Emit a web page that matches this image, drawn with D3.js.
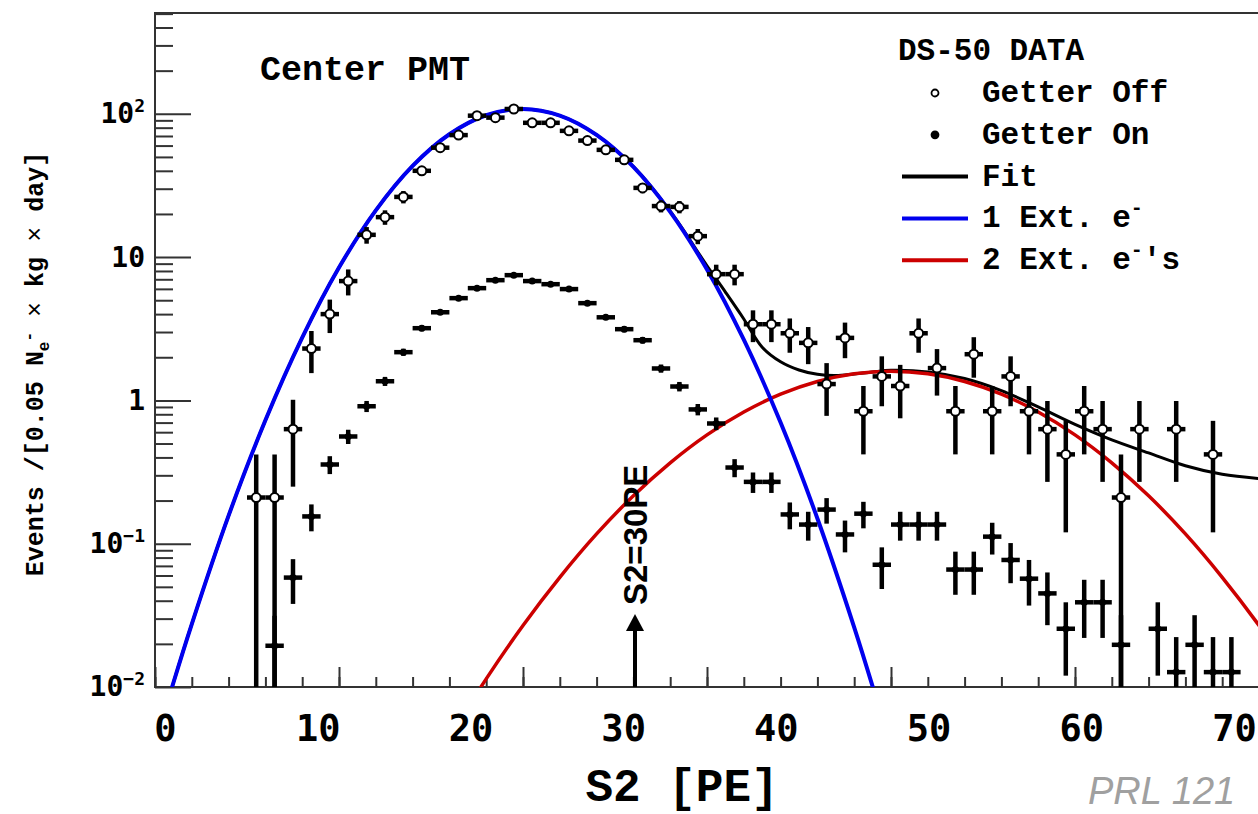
<!DOCTYPE html>
<html>
<head>
<meta charset="utf-8">
<script src="https://cdn.jsdelivr.net/npm/d3@7"></script>
<style>
body { margin:0; background:#fff; }
</style>
</head>
<body>
<svg id="chart"></svg>
<script>
// values, x in extracted electrons (0.05 N_e bins)
var getterOffNe = [0.275,0.325,0.375,0.425,0.475,0.525,0.575,0.625,0.675,0.725,0.775,0.825,0.875,0.925,0.975,
    1.025,1.075,1.125,1.175,1.225,1.275,1.325,1.375,1.425,1.475,1.525,1.575,1.625,1.675,1.725,1.775,1.825,1.875,
    1.925,1.975,2.025,2.075,2.125,2.175,2.225,2.275,2.325,2.375,2.425,2.475,2.525,2.575,2.625,2.675,2.775,2.875]
var getterOffVal = [0.21,0.21,0.63,2.3,4.0,6.8,14.3,19.0,26.3,40,58,71,97,94,108,
    86.5,86.5,76,65,56,47.7,30.4,22.7,22.4,14.0,7.6,7.6,3.4,3.4,2.94,2.52,1.3,2.73,
    0.84,1.47,1.26,2.94,1.68,0.84,2.1,0.84,1.47,0.84,0.63,0.42,0.84,0.63,0.21,0.63,0.63,0.42]
var getterOffErr = [0.21,0.21,0.38,0.75,1.05,1.4,1.9,2.2,2.6,3.1,3.6,4.0,4.6,4.5,4.8,
    4.3,4.3,4.0,3.7,3.4,3.2,2.5,2.2,2.2,1.7,1.25,1.25,0.85,0.85,0.79,0.73,0.52,0.76,
    0.42,0.56,0.51,0.79,0.6,0.42,0.66,0.42,0.56,0.42,0.36,0.3,0.42,0.36,0.21,0.36,0.36,0.3]

var getterOnNe = [0.325,0.375,0.425,0.475,0.525,0.575,0.625,0.675,0.725,0.775,0.825,0.875,0.925,0.975,
    1.025,1.075,1.125,1.175,1.225,1.275,1.325,1.375,1.425,1.475,1.525,1.575,1.625,1.675,1.725,1.775,1.825,1.875,
    1.925,1.975,2.025,2.075,2.125,2.175,2.225,2.275,2.325,2.375,2.425,2.475,2.525,2.575,2.625,
    2.725,2.775,2.825,2.875,2.925]
var getterOnVal = [0.0194,0.058,0.155,0.357,0.56,0.91,1.36,2.17,3.19,4.12,5.17,6.07,6.9,7.48,
    6.8,6.47,5.98,4.77,3.8,3.14,2.63,1.67,1.25,0.865,0.69,0.34,0.27,0.27,0.16,0.136,0.173,0.116,
    0.162,0.0713,0.136,0.136,0.136,0.066,0.066,0.112,0.077,0.057,0.045,0.0255,0.039,0.039,0.0197,
    0.0255,0.0127,0.0197,0.0127,0.0127]
var getterOnErr = [0.012,0.020,0.033,0.051,0.064,0.081,0.099,0.125,0.152,0.172,0.193,0.209,0.223,0.232,
    0.221,0.216,0.207,0.185,0.165,0.150,0.138,0.110,0.095,0.079,0.070,0.049,0.044,0.044,0.034,0.031,0.035,0.029,
    0.034,0.023,0.031,0.031,0.031,0.022,0.022,0.028,0.024,0.020,0.018,0.0135,0.017,0.017,0.012,
    0.0135,0.0096,0.012,0.0096,0.0096]

// fit curves, read point by point
var oneElecNe  = [0,0.05,0.1,0.2,0.3,0.4,0.5,0.6,0.7,0.8,0.9,1.0,1.1,1.2,1.3,1.4,1.5,1.6,1.7,1.8,1.9,1.95,2.0]
var oneElecVal = [0.0039,0.0107,0.0275,0.157,0.726,2.74,8.45,21.2,43.3,72.0,97.7,108,97.1,71.2,42.6,20.7,8.2,2.65,0.70,0.150,0.0261,0.0101,0.0037]

var twoElecNe  = [0.8,0.9,1.0,1.1,1.2,1.3,1.4,1.5,1.6,1.7,1.8,1.9,2.0,2.1,2.2,2.3,2.4,2.5,2.6,2.7,2.8,2.9,3.0,3.1]
var twoElecVal = [0.00445,0.0114,0.0269,0.0583,0.117,0.216,0.367,0.575,0.830,1.105,1.355,1.532,1.596,1.532,1.355,1.105,0.830,0.575,0.367,0.216,0.117,0.0583,0.0269,0.0114]

var fitNe  = [0,0.05,0.1,0.2,0.3,0.4,0.5,0.6,0.7,0.8,0.9,1.0,1.1,1.2,1.3,1.4,1.5,1.55,1.6,1.65,1.7,1.75,1.8,1.85,1.9,1.95,2.0,2.1,2.2,2.3,2.4,2.5,2.6,2.7,2.8,2.9,3.0,3.05]
var fitVal = [0.0039,0.0107,0.0275,0.157,0.726,2.74,8.45,21.2,43.3,72.0,97.7,108,97.1,71.2,42.8,20.9,8.7,5.7,3.7,2.35,1.86,1.63,1.52,1.49,1.53,1.58,1.62,1.58,1.42,1.17,0.9,0.68,0.53,0.43,0.35,0.305,0.285,0.28]

var s2Labels = [0,10,20,30,40,50,60,70]   // PE
var yDecades = [0.01,0.1,1,10,100]
var peGain = 23.0        // PE per extracted electron
var markerPE = 30

var screen = {width:1258, height:814}
var plot = {left:155, right:1259, top:13, bottom:687}
var mono = "'Liberation Mono','Courier New',monospace"
var numFont = "'DejaVu Sans Mono',monospace"

var svg = d3.select("#chart")
    .attr("width",screen.width)
    .attr("height",screen.height)
    .style("background","#fff")

var xScale = d3.scaleLinear().domain([0,3]).range([plot.left,plot.right])
var yScale = d3.scaleLog().domain([0.01,505]).range([plot.bottom,plot.top])
var labelScale = d3.scaleLinear().domain([0,70]).range([165,1234])

svg.append("defs").append("clipPath").attr("id","clip")
    .append("rect")
    .attr("x",plot.left).attr("y",plot.top)
    .attr("width",plot.right-plot.left+10).attr("height",plot.bottom-plot.top)

// ---- ticks ----
var yMinor = []
yDecades.forEach(function(d){ for(var m=2;m<10;m++){ if(d*m<505) yMinor.push(d*m) } })

var axG = svg.append("g").attr("class","axes")

axG.append("g").attr("transform","translate("+plot.left+",0)")
    .call(d3.axisRight(yScale).tickValues(yDecades).tickSize(36).tickFormat(""))
axG.append("g").attr("transform","translate("+plot.left+",0)")
    .call(d3.axisRight(yScale).tickValues(yMinor).tickSize(18).tickFormat(""))

axG.append("g").attr("transform","translate(0,"+plot.bottom+")")
    .call(d3.axisBottom(xScale).tickValues(d3.range(0,3.01,0.5)).tickSize(-20).tickFormat(""))
axG.append("g").attr("transform","translate(0,"+plot.bottom+")")
    .call(d3.axisBottom(xScale).tickValues(d3.range(0,3.01,0.1)).tickSize(-10).tickFormat(""))

axG.selectAll(".domain").remove()
axG.selectAll(".tick line").attr("stroke","#333").attr("stroke-width",2)

// y labels 10^n
var yLab = svg.append("g").attr("transform","translate("+plot.left+",0)")
    .call(d3.axisLeft(yScale).tickValues(yDecades).tickSize(0).tickPadding(10).tickFormat(""))
yLab.select(".domain").remove()
yLab.selectAll(".tick text").each(function(d){
    var t = d3.select(this)
        .attr("font-family",numFont).attr("font-weight","bold")
        .attr("font-size",28).attr("fill","#000")
    var e = Math.round(Math.log10(d))
    if (e==0) { t.text("1"); return }
    if (e==1) { t.text("10"); return }
    t.append("tspan").text("10")
    t.append("tspan").attr("dy",-11).attr("font-size",18).text(e<0 ? "\u2212"+(-e) : e)
})

// x labels in PE
var xLab = svg.append("g").attr("transform","translate(0,"+plot.bottom+")")
    .call(d3.axisBottom(labelScale).tickValues(s2Labels).tickSize(0).tickPadding(28))
xLab.select(".domain").remove()
xLab.selectAll(".tick text")
    .attr("font-family",numFont).attr("font-weight","bold")
    .attr("font-size",37).attr("fill","#000")

// frame
svg.append("path")
    .attr("d","M"+(plot.right+10)+","+plot.top+"H"+plot.left+"V"+plot.bottom+"H"+(plot.right+10))
    .attr("fill","none").attr("stroke","#333").attr("stroke-width",2)

// ---- curves ----
var lineGen = d3.line()
    .x(function(d){ return xScale(d[0]) })
    .y(function(d){ return yScale(d[1]) })
    .curve(d3.curveCatmullRom.alpha(0.5))

var curves = svg.append("g").attr("clip-path","url(#clip)")
curves.append("path").datum(d3.zip(fitNe,fitVal))
    .attr("d",lineGen).attr("fill","none").attr("stroke","#000").attr("stroke-width",3)
curves.append("path").datum(d3.zip(twoElecNe,twoElecVal))
    .attr("d",lineGen).attr("fill","none").attr("stroke","#cc0000").attr("stroke-width",3.5)
curves.append("path").datum(d3.zip(oneElecNe,oneElecVal))
    .attr("d",lineGen).attr("fill","none").attr("stroke","#0000ee").attr("stroke-width",4)

// ---- data points with error bars ----
var binHalf = 0.025
var drawPoints = function(data, open)
{
    var g = svg.append("g").attr("clip-path","url(#clip)")
    var pts = g.selectAll("g").data(data).enter().append("g")
    pts.append("line")
        .attr("x1",function(d){ return xScale(d[0]) })
        .attr("x2",function(d){ return xScale(d[0]) })
        .attr("y1",function(d){ return yScale(Math.max(d[1]-d[2],0.001)) })
        .attr("y2",function(d){ return yScale(d[1]+d[2]) })
        .attr("stroke","#000").attr("stroke-width",4.5)
    pts.append("line")
        .attr("x1",function(d){ return xScale(d[0]-binHalf) })
        .attr("x2",function(d){ return xScale(d[0]+binHalf) })
        .attr("y1",function(d){ return yScale(d[1]) })
        .attr("y2",function(d){ return yScale(d[1]) })
        .attr("stroke","#000").attr("stroke-width",4.5)
    pts.append("circle")
        .attr("cx",function(d){ return xScale(d[0]) })
        .attr("cy",function(d){ return yScale(d[1]) })
        .attr("r",open ? 4.5 : 3.5)
        .attr("fill",open ? "#fff" : "#000")
        .attr("stroke","#000").attr("stroke-width",open ? 2 : 0)
}
drawPoints(d3.zip(getterOnNe,getterOnVal,getterOnErr), false)
drawPoints(d3.zip(getterOffNe,getterOffVal,getterOffErr), true)

// ---- S2 = 30 PE marker ----
var ax = xScale(markerPE/peGain)
svg.append("line").attr("x1",ax).attr("x2",ax)
    .attr("y1",plot.bottom).attr("y2",plot.bottom-58)
    .attr("stroke","#000").attr("stroke-width",4)
svg.append("path")
    .attr("d","M"+(ax-9)+","+(plot.bottom-56)+"L"+ax+","+(plot.bottom-73)+"L"+(ax+9)+","+(plot.bottom-56)+"Z")
    .attr("fill","#000")
svg.append("text")
    .attr("transform","translate("+(ax+12)+","+(plot.bottom-82)+") rotate(-90)")
    .attr("font-family","'Liberation Sans',Arial,sans-serif").attr("font-weight","bold")
    .attr("font-size",33).text("S2="+markerPE+"PE")

// ---- texts ----
svg.append("text").attr("x",260).attr("y",80)
    .attr("font-family",mono).attr("font-weight","bold").attr("font-size",35)
    .text("Center PMT")

var yt = svg.append("text")
    .attr("transform","translate(43,364) rotate(-90)")
    .attr("text-anchor","middle")
    .attr("font-family",mono).attr("font-weight","bold").attr("font-size",25)
yt.append("tspan").text("Events /[0.05 N")
yt.append("tspan").attr("dy",6).attr("font-size",16).text("e")
yt.append("tspan").attr("dy",-15).attr("font-size",16).text("-")
yt.append("tspan").attr("dy",9).attr("font-weight","normal").text(" \u00d7 ")
yt.append("tspan").text("kg")
yt.append("tspan").attr("font-weight","normal").text(" \u00d7 ")
yt.append("tspan").text("day]")

svg.append("text").attr("x",682).attr("y",801).attr("text-anchor","middle")
    .attr("font-family",mono).attr("font-weight","bold").attr("font-size",46)
    .text("S2 [PE]")

svg.append("text").attr("x",1088).attr("y",804)
    .attr("font-family","'Liberation Sans',Arial,sans-serif").attr("font-style","italic")
    .attr("font-size",38).attr("fill","#a0a0a0")
    .text("PRL 121")

// ---- legend ----
var legend = svg.append("g").attr("font-family",mono).attr("font-weight","bold").attr("font-size",31)
legend.append("text").attr("x",898).attr("y",60).text("DS-50 DATA")

var legendItems = [
    {label:"Getter Off", kind:"open"},
    {label:"Getter On", kind:"dot"},
    {label:"Fit", kind:"line", color:"#000"},
    {label:"1 Ext. e", kind:"line", color:"#0000ee", sup:"-"},
    {label:"2 Ext. e", kind:"line", color:"#cc0000", sup:"-", tail:"'s"}
]
var rows = legend.selectAll("g.item").data(legendItems).enter().append("g")
    .attr("class","item")
    .attr("transform",function(d,i){ return "translate(0,"+(102+i*41.8)+")" })

rows.append("text").attr("x",982).attr("y",0).each(function(d){
    var t = d3.select(this)
    t.append("tspan").text(d.label)
    if (d.sup) {
        t.append("tspan").attr("dy",-13).attr("font-size",20).text(d.sup)
        if (d.tail) t.append("tspan").attr("dy",13).text(d.tail)
    }
})
rows.filter(function(d){ return d.kind=="line" }).append("line")
    .attr("x1",902).attr("x2",968).attr("y1",-9).attr("y2",-9)
    .attr("stroke",function(d){ return d.color }).attr("stroke-width",4)
rows.filter(function(d){ return d.kind!="line" }).append("circle")
    .attr("cx",935).attr("cy",-9).attr("r",3.5)
    .attr("fill",function(d){ return d.kind=="open" ? "#fff" : "#000" })
    .attr("stroke","#000").attr("stroke-width",1.8)
</script>
</body>
</html>
